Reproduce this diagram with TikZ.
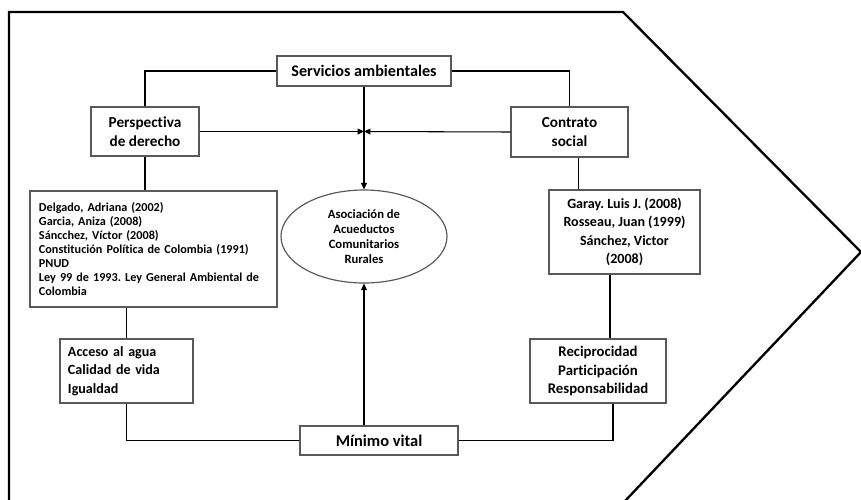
\documentclass[tikz,border=0pt]{standalone}
\usepackage{fontspec}
\setmainfont{Carlito}[Ligatures=NoCommon]
\frenchspacing
\usetikzlibrary{shapes.geometric,arrows.meta}
\begin{document}
\begin{tikzpicture}[x=0.03cm,y=-0.03cm,>={Triangle[length=5.5pt,width=5pt]},line width=0.9pt,
    box/.style={rectangle,draw=black!65,line width=1pt,align=center,inner sep=0pt},
    big/.style={font=\fontsize{13}{16}\selectfont\bfseries},
    mid/.style={font=\fontsize{12}{16}\selectfont\bfseries},
    small/.style={font=\fontsize{10.4}{12}\selectfont\bfseries}]
    \useasboundingbox (0,0) rectangle (861,499);
    \clip (0,0) rectangle (861,499);
    \fill[white] (0,0) rectangle (861,499);
    \draw[line width=2pt] (9,520) -- (9,12) -- (623,12) -- (861,252) -- (607,520);

    \node[box,big,font=\fontsize{13.8}{16}\selectfont\bfseries,minimum width=5.22cm,minimum height=0.9cm] at (364,71) (svc) {Servicios ambientales};
    \node[box,big,minimum width=3.24cm,minimum height=1.47cm] at (145,131.5) (persp) {Perspectiva\\de derecho};
    \node[box,big,minimum width=3.51cm,minimum height=1.5cm] at (569.5,132) (contr) {Contrato\\social};
    \node[box,small,text width=6.87cm,align=left,inner xsep=0.27cm,minimum height=3.48cm] at (153.5,249) (delg)
        {Delgado, Adriana (2002)\\Garcia, Aniza (2008)\\Sáncchez, Víctor (2008)\\Constitución Política de Colombia (1991)\\PNUD\\Ley 99 de 1993. Ley General Ambiental de\\Colombia};
    \node[box,mid,font=\fontsize{12}{15.8}\selectfont\bfseries,minimum width=4.53cm,minimum height=2.52cm] at (624.5,232) (garay)
        {Garay. Luis J. (2008)\\Rosseau, Juan (1999)\\Sánchez, Victor\\(2008)};
    \node[ellipse,draw=black!65,line width=1pt,align=center,font=\fontsize{10.8}{12.8}\selectfont\bfseries,minimum width=4.98cm,minimum height=2.79cm,inner sep=0pt] at (364,236.5) (aso)
        {Asociación de\\Acueductos\\Comunitarios\\Rurales};
    \node[box,mid,text width=3.51cm,align=left,inner xsep=0.24cm,minimum height=1.92cm] at (126.5,371) (acc)
        {Acceso al agua\\Calidad de vida\\Igualdad};
    \node[box,mid,font=\fontsize{12.6}{16}\selectfont\bfseries,minimum width=4.08cm,minimum height=1.92cm] at (598,371) (recip)
        {Reciprocidad\\Participación\\Responsabilidad};
    \node[box,big,font=\fontsize{14}{16}\selectfont\bfseries,minimum width=4.74cm,minimum height=0.87cm] at (379,440.5) (minimo) {Mínimo vital};

    \coordinate (meet) at (svc.south |- persp.east);
    \draw (svc.west) -| (persp.north);
    \draw (svc.east) -| (contr.north);
    \path[->] (svc.south) edge (aso.north);
    \path[->] (persp.east) edge (meet);
    \path[->] (contr.west) edge (meet);
    \draw (persp.south) -- (persp.south |- delg.north);
    \draw ([xshift=0.28cm]contr.south) -- ([xshift=0.28cm]contr.south |- garay.north);
    \draw (acc.north) -- (acc.north |- delg.south);
    \draw ([xshift=0.36cm]recip.north) -- ([xshift=0.36cm]recip.north |- garay.south);
    \draw (acc.south) |- (minimo.west);
    \draw (minimo.east) -| ([xshift=0.45cm]recip.south);
    \path[->] (aso.south |- minimo.north) edge (aso.south);
\end{tikzpicture}
\end{document}
